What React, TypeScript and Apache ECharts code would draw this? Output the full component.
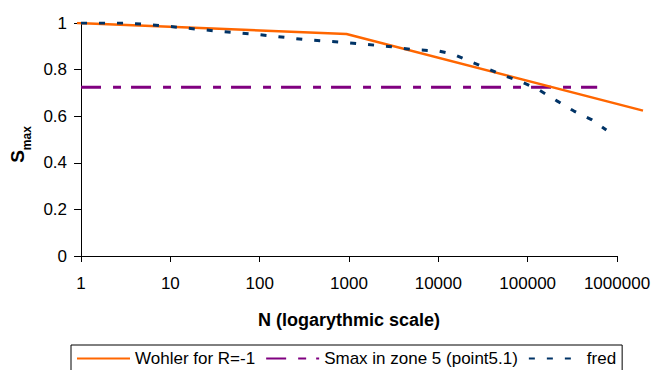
import React, { useEffect, useRef } from "react";
import * as echarts from "echarts";

const wohlerN = [1, 1000, 2000000];
const wohlerS = [1, 0.953, 0.624];

const smaxN = [1, 600000];
const smaxS = [0.724, 0.724];

const fredN = [1, 3, 5, 10, 30, 100, 300, 1000, 3000, 5000, 10000, 15000, 22000, 35000, 54000, 85000, 135000, 210000, 330000, 525000, 760000];
const fredS = [1, 1, 0.995, 0.985, 0.967, 0.95, 0.93, 0.915, 0.898, 0.886, 0.88, 0.865, 0.837, 0.805, 0.775, 0.748, 0.712, 0.667, 0.622, 0.584, 0.541];

const seriesNames = ["Wohler for R=-1", "Smax in zone 5 (point5.1)", "fred"];

const FONT = "Liberation Sans, Arial, sans-serif";

const zip = (xs: number[], ys: number[]) => xs.map((x, i) => [x, ys[i]]);

export default function App() {
  const ref = useRef<HTMLDivElement>(null);
  useEffect(() => {
    if (!ref.current) return;
    const chart = echarts.init(ref.current, null, { renderer: "svg" });
    chart.setOption({
      animation: false,
      backgroundColor: "#fff",
      textStyle: { fontFamily: FONT },
      grid: [
        { left: 77, right: 39, top: 23, bottom: 114, containLabel: false },
        { left: 77, right: 13, top: 23, bottom: 114, containLabel: false },
      ],
      legend: {
        data: seriesNames,
        left: 71,
        top: 345,
        orient: "horizontal",
        borderColor: "#000",
        borderWidth: 1,
        padding: [5, 6, 12, 5],
        itemWidth: 53,
        itemHeight: 14,
        itemGap: 10,
        itemStyle: { opacity: 0 },
        textStyle: { fontSize: 17, color: "#000", fontFamily: FONT },
      },
      xAxis: [
        {
          type: "log",
          gridIndex: 0,
          logBase: 10,
          min: 1,
          max: 1000000,
          name: "N (logarythmic scale)",
          nameLocation: "middle",
          nameGap: 55,
          nameTextStyle: { fontSize: 18, fontWeight: "bold", color: "#000", fontFamily: FONT },
          axisLine: { lineStyle: { color: "#000", width: 1 } },
          axisTick: { show: true, length: 6, lineStyle: { color: "#000" } },
          minorTick: { show: false },
          splitLine: { show: false },
          axisLabel: {
            fontSize: 17,
            color: "#000",
            margin: 19,
            fontFamily: FONT,
            formatter: (v: number) => String(Math.round(v)),
          },
        },
        {
          type: "log",
          gridIndex: 1,
          logBase: 10,
          min: 1,
          max: 2000000,
          show: false,
        },
      ],
      yAxis: [
        {
          type: "value",
          gridIndex: 0,
          min: 0,
          max: 1,
          interval: 0.2,
          name: "{s|S}{m|max}",
          nameLocation: "middle",
          nameRotate: 90,
          nameGap: 52,
          nameTextStyle: {
            padding: [0, 10, 0, 0],
            rich: {
              s: { fontSize: 19, fontWeight: "bold", color: "#000", fontFamily: FONT, lineHeight: 22 },
              m: { fontSize: 12, fontWeight: "bold", color: "#000", fontFamily: FONT, verticalAlign: "bottom", lineHeight: 12, padding: [0, 0, -4, 0] },
            },
          },
          axisLine: { show: true, lineStyle: { color: "#000", width: 1 } },
          axisTick: { show: true, length: 7, lineStyle: { color: "#000" } },
          splitLine: { show: false },
          axisLabel: {
            fontSize: 17,
            color: "#000",
            margin: 14,
            fontFamily: FONT,
            formatter: (v: number) => String(Math.round(v * 10) / 10),
          },
        },
        {
          type: "value",
          gridIndex: 1,
          min: 0,
          max: 1,
          show: false,
          splitLine: { show: false },
        },
      ],
      series: [
        {
          name: seriesNames[0],
          type: "line",
          xAxisIndex: 1,
          yAxisIndex: 1,
          data: zip(wohlerN, wohlerS),
          symbol: "none",
          showSymbol: false,
          lineStyle: { color: "#FF6600", width: 2.5 },
          itemStyle: { color: "#FF6600" },
          z: 3,
        },
        {
          name: seriesNames[1],
          type: "line",
          data: zip(smaxN, smaxS),
          symbol: "none",
          showSymbol: false,
          lineStyle: { color: "#800080", width: 3, type: [20, 12, 8, 10], cap: "butt" },
          itemStyle: { color: "#800080" },
          z: 2,
        },
        {
          name: seriesNames[2],
          type: "line",
          data: zip(fredN, fredS),
          symbol: "none",
          showSymbol: false,
          lineStyle: { color: "#003366", width: 3, type: [6, 12], cap: "butt" },
          itemStyle: { color: "#003366" },
          z: 4,
        },
      ],
    });
    return () => chart.dispose();
  }, []);
  return <div ref={ref} style={{ position: "fixed", left: 0, top: 0, width: 656, height: 370 }} />;
}
